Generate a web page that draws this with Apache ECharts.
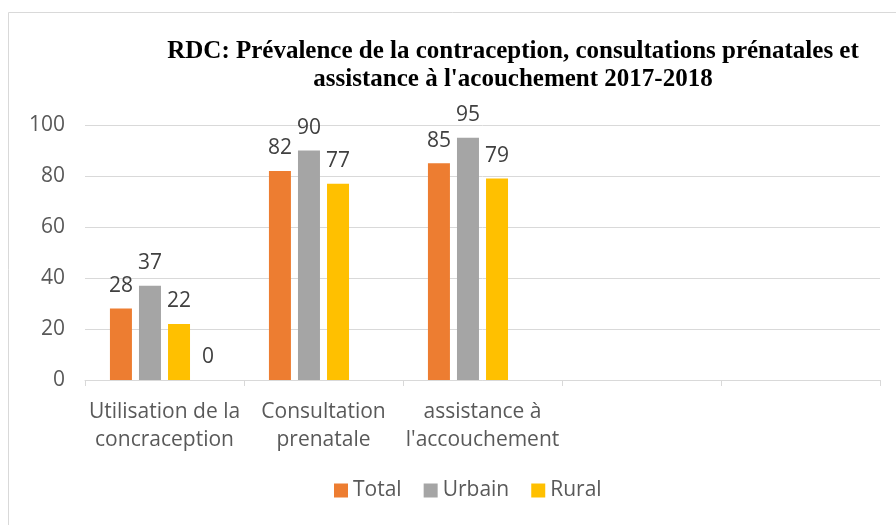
<!DOCTYPE html>
<html>
<head>
<meta charset="utf-8">
<script src="https://cdn.jsdelivr.net/npm/echarts@6/dist/echarts.min.js"></script>
<style>
  html, body { margin: 0; padding: 0; background: #fff; }
  #chartBox { width: 896px; height: 525px; }
</style>
</head>
<body>
<div id="chartBox"></div>
<script>
const categories = ['Utilisation de la\nconcraception', 'Consultation\nprenatale', 'assistance à\nl\'accouchement', '', '']
const totalValues = [28, 82, 85, null, null]
const urbainValues = [37, 90, 95, null, null]
const ruralValues = [22, 77, 79, null, null]
const extraValues = [0, null, null, null, null]
const yTicks = { min: 0, max: 100, interval: 20 }

const TOTAL_C = '#ED7D31'
const URBAIN_C = '#A5A5A5'
const RURAL_C = '#FFC000'
const FONT = '"Open Sans", "Noto Sans", sans-serif'

const labelStyle = {
  show: true,
  position: 'top',
  distance: 12,
  color: '#404040',
  fontSize: 21,
  fontFamily: FONT,
}

function bar(name, data, color) {
  return {
    name,
    type: 'bar',
    data,
    barWidth: 22,
    barGap: '32%',
    itemStyle: { color },
    label: labelStyle,
  }
}

const option = {
  animation: false,
  title: {
    text: 'RDC: Prévalence de la contraception, consultations prénatales et\nassistance à l\'acouchement 2017-2018',
    left: 508,
    textAlign: 'center',
    top: 33,
    textStyle: {
      fontFamily: '"Liberation Serif", serif',
      fontWeight: 'bold',
      fontSize: 25,
      lineHeight: 28,
      color: '#000',
    },
  },
  graphic: [
    {
      type: 'rect',
      shape: { x: 8.5, y: 12.5, width: 920, height: 540 },
      style: { fill: 'none', stroke: '#d9d9d9', lineWidth: 1 },
      silent: true,
    },
  ],
  legend: {
    data: ['Total', 'Urbain', 'Rural'],
    bottom: 19,
    left: 329,
    itemWidth: 14,
    itemHeight: 14,
    itemGap: 22,
    icon: 'rect',
    textStyle: { color: '#595959', fontSize: 21, fontFamily: FONT },
  },
  grid: {
    left: 85,
    right: 16,
    top: 125,
    bottom: 145,
  },
  xAxis: {
    type: 'category',
    data: categories,
    axisLine: { lineStyle: { color: '#d9d9d9' } },
    axisTick: { show: true, length: 6, lineStyle: { color: '#d9d9d9' } },
    axisLabel: {
      color: '#595959',
      fontSize: 21,
      fontFamily: FONT,
      lineHeight: 28,
      margin: 18,
      interval: 0,
    },
  },
  yAxis: {
    type: 'value',
    min: yTicks.min,
    max: yTicks.max,
    interval: yTicks.interval,
    axisLine: { show: false },
    axisTick: { show: false },
    splitLine: { lineStyle: { color: '#d9d9d9' } },
    axisLabel: { color: '#595959', fontSize: 21, fontFamily: FONT, margin: 20 },
  },
  series: [
    bar('Total', totalValues, TOTAL_C),
    bar('Urbain', urbainValues, URBAIN_C),
    bar('Rural', ruralValues, RURAL_C),
    bar('Extra', extraValues, '#5B9BD5'),
  ],
}

const charts = echarts.init(document.getElementById('chartBox'))
charts.setOption(option)
</script>
</body>
</html>
